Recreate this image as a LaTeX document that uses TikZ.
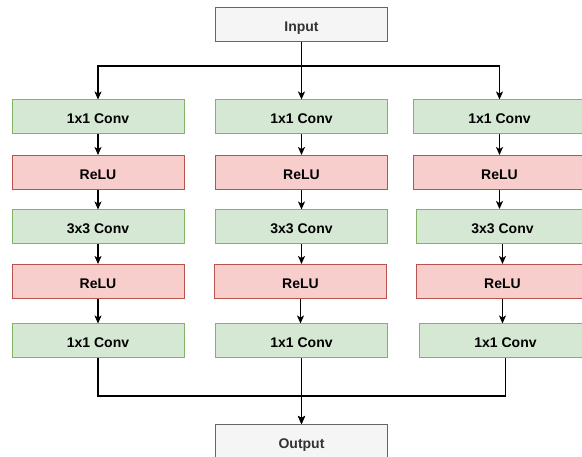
\documentclass[tikz,border=0pt]{standalone}
\usepackage{fontspec}
\setmainfont{Liberation Sans}
\usepackage{tikz}
\usetikzlibrary{arrows.meta,calc}
\definecolor{ConvFill}{HTML}{D5E8D4}
\definecolor{ConvLine}{HTML}{82B366}
\definecolor{ReluFill}{HTML}{F8CECC}
\definecolor{ReluLine}{HTML}{B85450}
\definecolor{IoFill}{HTML}{F5F5F5}
\definecolor{IoLine}{HTML}{666666}
\definecolor{IoText}{HTML}{333333}

\begin{document}
\begin{tikzpicture}[
  x=1pt, y=-1pt,
  box/.style={draw, line width=1pt, minimum width=172pt, minimum height=34pt,
              inner sep=0pt, text height=14pt, text depth=0pt,
              font=\fontsize{14}{16}\selectfont\bfseries},
  conv/.style={box, fill=ConvFill, draw=ConvLine},
  relu/.style={box, fill=ReluFill, draw=ReluLine},
  io/.style={box, fill=IoFill, draw=IoLine, text=IoText},
  arr/.style={-{Stealth[length=8pt,width=7pt,inset=2pt]}, line width=1.2pt}
]
  \useasboundingbox (0,0) rectangle (582,457);
  \clip (0,0) rectangle (582,457);

  \node[io] (in) at (301.5,25) {Input};

  % left branch
  \node[conv] (a1) at (98,117)   {1x1 Conv};
  \node[relu] (a2) at (98,172.5) {ReLU};
  \node[conv] (a3) at (98,227)   {3x3 Conv};
  \node[relu] (a4) at (98,281.5) {ReLU};
  \node[conv] (a5) at (98,341)   {1x1 Conv};

  % middle branch
  \node[conv] (b1) at (301.5,117)   {1x1 Conv};
  \node[relu] (b2) at (301.5,172.5) {ReLU};
  \node[conv] (b3) at (301.5,227)   {3x3 Conv};
  \node[relu] (b4) at (300.5,281.5) {ReLU};
  \node[conv] (b5) at (301.5,341)   {1x1 Conv};

  % right branch
  \node[conv] (c1) at (499.5,117)   {1x1 Conv};
  \node[relu] (c2) at (499.5,172.5) {ReLU};
  \node[conv] (c3) at (502.5,226.5) {3x3 Conv};
  \node[relu] (c4) at (502.5,281.5) {ReLU};
  \node[conv] (c5) at (505.5,341)   {1x1 Conv};

  \node[io] (out) at (301.5,441.5) {Output};

  \draw[arr] (in.south) -- ++(0,23.5) -| (a1.north);
  \draw[arr] (in.south) -- (b1.north);
  \draw[arr] (in.south) -- ++(0,23.5) -| (c1.north);

  \foreach \col in {a,b,c} {
    \foreach \i/\j in {1/2,2/3,3/4,4/5}
      \draw[arr] (\col\i.south) -- (\col\i.south |- \col\j.north);
    \draw[arr] (\col5.south) -- ++(0,37.5) -| (out.north);
  }
\end{tikzpicture}
\end{document}
